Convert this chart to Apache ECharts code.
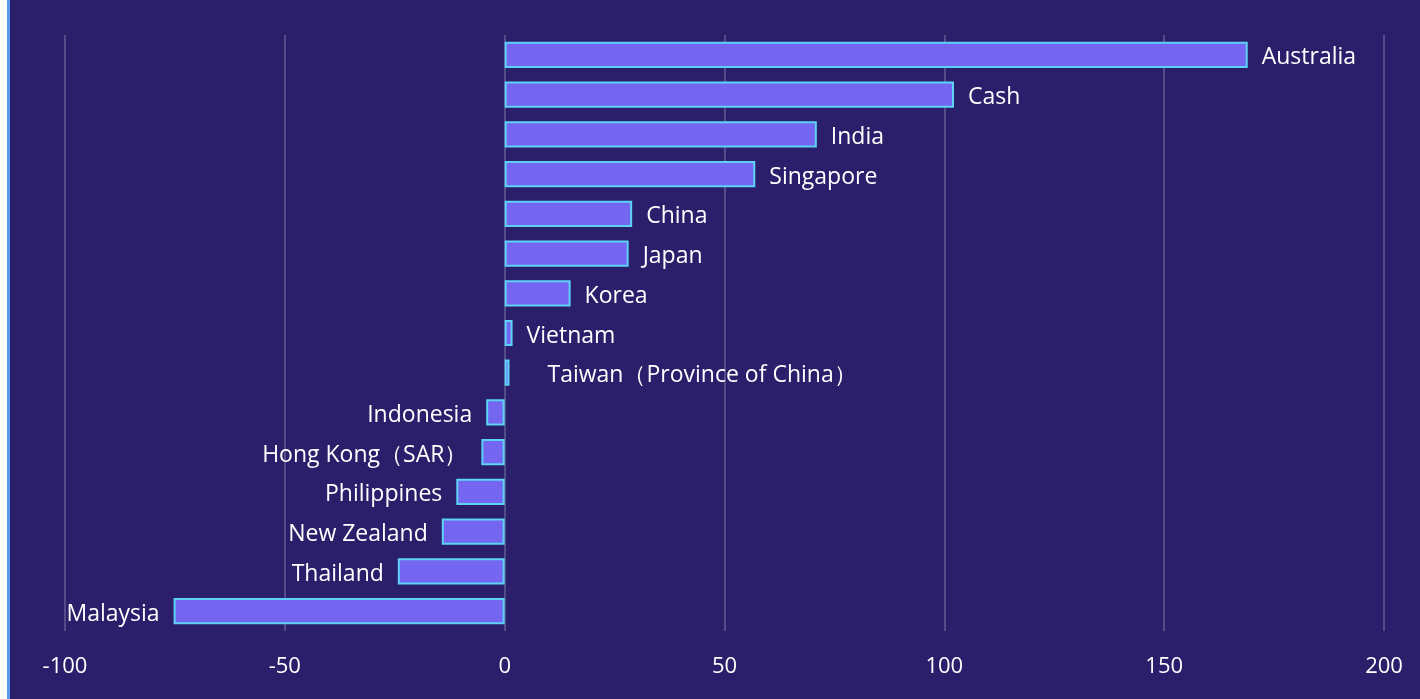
<!DOCTYPE html>
<html>
<head>
<meta charset="utf-8">
<script src="https://cdn.jsdelivr.net/npm/echarts@6/dist/echarts.min.js"></script>
<style>
    html, body { margin: 0; padding: 0; background: #ffffff; }
    #frame { position: absolute; left: 7px; top: 0; width: 3px; height: 699px; background: #5a9cf2; }
    #chart { position: absolute; left: 10px; top: 0; width: 1410px; height: 699px; }
</style>
</head>
<body>
<div id="frame"></div>
<div id="chart"></div>
<script>
    var categories = ['Australia', 'Cash', 'India', 'Singapore', 'China', 'Japan', 'Korea', 'Vietnam',
        'Taiwan（Province of China）', 'Indonesia', 'Hong Kong（SAR）', 'Philippines', 'New Zealand', 'Thailand', 'Malaysia'];
    var values = [169, 102.2, 71, 57, 29, 28.2, 15, 1.8, 1.1, -4.2, -5.3, -11, -14.3, -24.3, -75.3];
    var tickMin = -100;
    var tickMax = 200;
    var tickStep = 50;

    var chart = echarts.init(document.getElementById('chart'));

    var seriesData = values.map(function (v, i) {
        var lbl = { position: v >= 0 ? 'right' : 'left' };
        if (categories[i].indexOf('Taiwan') === 0) {
            lbl.distance = 38;
        }
        return { value: v, label: lbl };
    });

    chart.setOption({
        backgroundColor: '#2b1f6b',
        textStyle: { fontFamily: '"Open Sans", sans-serif' },
        grid: {
            left: 55,
            right: 36,
            top: 35,
            bottom: 68
        },
        xAxis: {
            type: 'value',
            min: tickMin,
            max: tickMax,
            interval: tickStep,
            axisLine: { show: false },
            axisTick: { show: false },
            axisLabel: {
                color: '#ffffff',
                fontSize: 22,
                margin: 25
            },
            splitLine: {
                lineStyle: { color: '#524c88', width: 2 }
            }
        },
        yAxis: {
            type: 'category',
            data: categories,
            inverse: true,
            show: false
        },
        series: [{
            type: 'bar',
            data: seriesData,
            barWidth: '66%',
            itemStyle: {
                color: '#7466f0',
                borderColor: '#5cd2f8',
                borderWidth: 2
            },
            label: {
                show: true,
                distance: 14,
                offset: [0, 3],
                color: '#ffffff',
                fontSize: 23,
                formatter: function (p) { return p.name; }
            }
        }]
    });
</script>
</body>
</html>
